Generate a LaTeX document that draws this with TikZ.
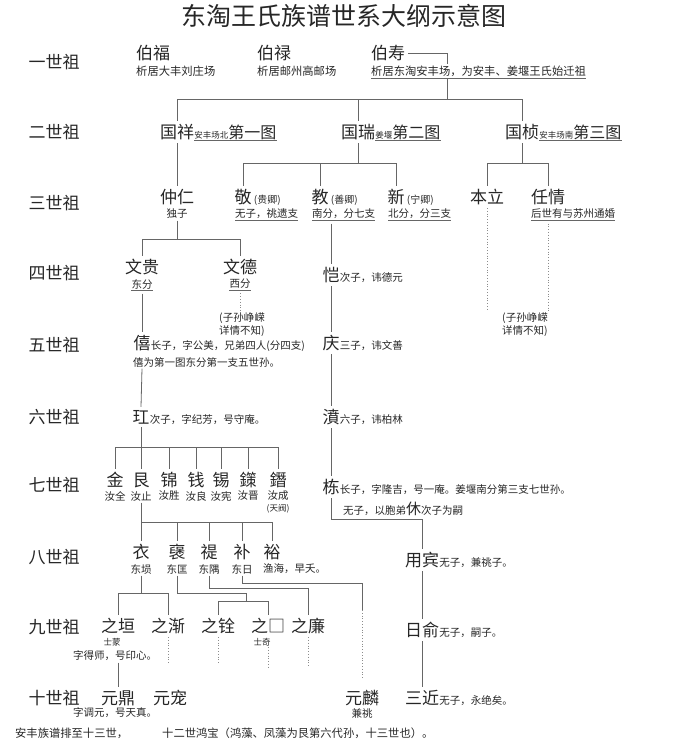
\documentclass[tikz,border=0pt]{standalone}
\usepackage{fontspec}
\setmainfont{Noto Sans CJK SC}
\usetikzlibrary{calc,positioning}
\newcommand\smallfs{\fontsize{8.5}{8.5}\selectfont}
\newcommand\midfs{\fontsize{16}{16}\selectfont}
\tikzset{txt/.style={inner sep=0pt, text=black!85},
  gen/.style={txt, font=\fontsize{17}{17}\selectfont},
  nm/.style={txt, inner ysep=3pt, font=\fontsize{17}{17}\selectfont},
  nt/.style={txt, inner ysep=1.5pt, font=\fontsize{10.5}{13}\selectfont},
  ntl/.style={txt, inner ysep=1.5pt, font=\fontsize{11.3}{13}\selectfont},
  sm/.style={txt, inner ysep=1pt, font=\fontsize{8.5}{10}\selectfont},
  zi/.style={txt, font=\fontsize{10}{10}\selectfont},
  ln/.style={draw=black!60, line width=0.8pt},
  dotln/.style={draw=black!45, dotted, line width=0.8pt},
  ul/.style={draw=black!60, line width=0.6pt}}

\begin{document}
\begin{tikzpicture}[x=1pt,y=-1pt]
  \useasboundingbox (0,0) rectangle (690,747);
  \node[txt, font=\fontsize{25}{25}\selectfont] (title) at (344,16) {东淘王氏族谱世系大纲示意图};
  % generation labels
  \foreach \y/\lab [count=\i] in {62/一世祖, 132/二世祖, 203/三世祖, 273/四世祖, 345/五世祖,
      417/六世祖, 485/七世祖, 557/八世祖, 627/九世祖, 698/十世祖}
    \node[gen] (g\i) at (54,\y) {\lab};

  % 1st generation
  \node[nm] (bf) at (153,53) {伯福};
  \node[nm] (bl) at (274,53) {伯禄};
  \node[nm] (bs) at (388,53) {伯寿};
  \node[ntl, anchor=west] (bfn) at (136,71) {析居大丰刘庄场};
  \node[ntl, anchor=west] (bln) at (257,71) {析居邮州高邮场};
  \node[ntl, anchor=west] (bsn) at (371,71) {析居东淘安丰场，为安丰、姜堰王氏始迁祖};

  % 2nd generation
  \node[nm] (gx) at (177,132) {国祥};
  \node[txt, font=\midfs, anchor=base west] (gxs) at (gx.base east) {{\smallfs 安丰场北}第一图};
  \node[nm] (gr) at (358,132) {国瑞};
  \node[txt, font=\midfs, anchor=base west] (grs) at (gr.base east) {{\smallfs 姜堰}第二图};
  \node[nm] (gz) at (522,132) {国桢};
  \node[txt, font=\midfs, anchor=base west] (gzs) at (gz.base east) {{\smallfs 安丰场南}第三图};

  % 3rd generation
  \node[nm] (zr) at (177,197) {仲仁};
  \node[nt] (zr2) at (177,214) {独子};
  \node[nm] (jing) at (243,197) {敬};
  \node[zi, anchor=base west] (jing1) at ([xshift=2pt]jing.base east) {(贵卿)};
  \node[nt, anchor=west] (jing2) at (235,214) {无子，祧遗支};
  \node[nm] (jiao) at (320,197) {教};
  \node[zi, anchor=base west] (jiao1) at ([xshift=2pt]jiao.base east) {(善卿)};
  \node[nt, anchor=west] (jiao2) at (312,214) {南分，分七支};
  \node[nm] (xin) at (396,197) {新};
  \node[zi, anchor=base west] (xin1) at ([xshift=2pt]xin.base east) {(宁卿)};
  \node[nt, anchor=west] (xin2) at (388,214) {北分，分三支};
  \node[nm] (bli) at (487,197) {本立};
  \node[nm] (rq) at (548,197) {任情};
  \node[nt, anchor=west] (rq2) at (531,214) {后世有与苏州通婚};

  % 4th and 5th generation
  \node[nm] (wg) at (142,267) {文贵};
  \node[nt] (wg2) at (142,284) {东分};
  \node[nm] (wd) at (240,267) {文德};
  \node[nt] (wd2) at (240,284) {西分};
  \node[nt, align=left, anchor=north] (zs1) at (242,311) {(子孙峥嵘\\详情不知)};
  \node[nt, align=left, anchor=north] (zs2) at (525,311) {(子孙峥嵘\\详情不知)};
  \node[nm] (kai) at (331,275) {恺};
  \node[nt, anchor=base west] (kai2) at (kai.base east) {次子，讳德元};
  \node[nm] (xi) at (142,343) {僖};
  \node[nt, anchor=base west] (xi1) at (xi.base east) {长子，字公美，兄弟四人(分四支)};
  \node[nt, anchor=west] (xi2) at (133,362) {僖为第一图东分第一支五世孙。};
  \node[nm] (qing) at (331,343) {庆};
  \node[nt, anchor=base west] (qing2) at (qing.base east) {三子，讳文善};

  % 6th and 7th generation
  \node[nm] (hong) at (141,417) {玒};
  \node[nt, anchor=base west] (hong2) at (hong.base east) {次子，字纪芳，号守庵。};
  \node[nm] (fen) at (331,417) {濆};
  \node[nt, anchor=base west] (fen2) at (fen.base east) {六子，讳柏林};
  \foreach \x/\a/\b [count=\i] in {115/金/汝全, 141/艮/汝止, 169/锦/汝胜, 196/钱/汝良,
      221/锡/汝宪, 248/鏼/汝晋, 278/鐕/汝成}{
    \node[nm] (s\i) at (\x,480) {\a};
    \node[nt] (t\i) at (\x,496) {\b};}
  \node[sm] (tian) at (278,509) {(天阀)};
  \node[nm] (dong) at (331,487) {栋};
  \node[nt, anchor=base west] (dong2) at (dong.base east) {长子，字隆吉，号一庵。姜堰南分第三支七世孙。};
  \node[nt, anchor=west] (dong3) at (343,509) {无子，以胞弟{\fontsize{15}{15}\selectfont 休}次子为嗣};

  % 8th generation
  \foreach \x/\a/\b [count=\i] in {141/衣/东埙, 177/襃/东匡, 209/禔/东隅, 242/补/东日}{
    \node[nm] (r\i) at (\x,552) {\a};
    \node[nt] (u\i) at (\x,569) {\b};}
  \node[nm] (r5) at (272,552) {裕};
  \node[nt, anchor=west] (u5) at (263,569) {渔海，早夭。};
  \node[nm] (yb) at (422,560) {用宾};
  \node[nt, anchor=base west] (yb2) at (yb.base east) {无子，兼祧子。};

  % 9th generation
  \foreach \x/\a [count=\i] in {118/之垣, 168/之渐, 218/之铨, 268/之□, 308/之廉}
    \node[nm] (v\i) at (\x,626) {\a};
  \node[sm] (w1) at (112,642) {士蒙};
  \node[sm] (w4) at (262,642) {士奇};
  \node[nt] (w1b) at (115,656) {字得师，号印心。};
  \node[nm] (ry) at (422,630) {日俞};
  \node[nt, anchor=base west] (ry2) at (ry.base east) {无子，嗣子。};

  % 10th generation
  \node[nm] (x1) at (118,698) {元鼎};
  \node[nm] (x2) at (170,698) {元宠};
  \node[nt] (x1b) at (115,713) {字调元，号天真。};
  \node[nm] (yl) at (362,698) {元麟};
  \node[nt] (ylb) at (362,713) {兼祧};
  \node[nm] (sj) at (422,698) {三近};
  \node[nt, anchor=base west] (sj2) at (sj.base east) {无子，永绝矣。};

  % footer
  \node[ntl, anchor=west] (ft1) at (15,733) {安丰族谱排至十三世，};
  \node[ntl, anchor=west] (ft2) at (162,733) {十二世鸿宝（鸿藻、凤藻为艮第六代孙，十三世也）。};

  % underlines
  \foreach \n in {bsn,gxs,grs,gzs,jing2,jiao2,xin2,rq2,wg2,wd2}
    \draw[ul] (\n.south west) -- (\n.south east);

  % 1st to 3rd generation
  \coordinate (k1) at (447,99);
  \draw[ln] ([xshift=3pt]bs.east) -| (bsn.north -| k1);
  \draw[ln] (bsn.south -| k1) -- (k1);
  \draw[ln] (gx.north |- k1) -- (gz.north |- k1);
  \foreach \n in {gx,gr,gz} \draw[ln] (\n.north |- k1) -- (\n.north);
  \draw[ln] (gx.south) -- (zr.north);
  \coordinate (k2) at (358,163);
  \draw[ln] (gr.south) -- (k2);
  \draw[ln] (jing.north |- k2) -- (xin.north |- k2);
  \foreach \n in {jing,jiao,xin} \draw[ln] (\n.north |- k2) -- (\n.north);
  \coordinate (k3) at (522,163);
  \draw[ln] (gz.south) -- (k3);
  \draw[ln] (bli.north |- k3) -- (rq.north |- k3);
  \foreach \n in {bli,rq} \draw[ln] (\n.north |- k3) -- (\n.north);

  % 3rd to 5th generation
  \coordinate (k4) at (177,239);
  \draw[ln] (zr2.south) -- (k4);
  \draw[ln] (wg.north |- k4) -- (wd.north |- k4);
  \foreach \n in {wg,wd} \draw[ln] (\n.north |- k4) -- (\n.north);
  \draw[ln] ([yshift=-3pt]wg2.south) -- (xi.north);
  \draw[dotln] ([yshift=-3pt]wd2.south) -- (wd2.south |- zs1.north);
  \draw[dotln] (bli.south) -- (bli.south |- zs2.north);
  \draw[dotln] ([yshift=-3pt]rq2.south -| rq.south) -- (rq.south |- zs2.north);
  \draw[ln] ([yshift=-3pt]jiao2.south -| kai) -- (kai.north);
  \draw[ln] (kai.south) -- (qing.north);

  % 5th to 8th generation
  \draw[ln] (qing.south) -- (fen.north);
  \draw[ln] (fen.south) -- (dong.north);
  \coordinate (k5) at (422,519);
  \draw[ln] (dong.south) |- (k5) -- (yb.north);
  \draw[ln] (yb.south) -- (ry.north);
  \draw[ln] (ry.south) -- (sj.north);
  \draw[ln] (xi2.south -| xi) -- (hong.north);
  \coordinate (k6) at (141,447);
  \draw[ln] (hong.south) -- (k6);
  \draw[ln] (s1.north |- k6) -- (s7.north |- k6);
  \foreach \n in {s1,s2,s3,s4,s5,s6,s7} \draw[ln] (\n.north |- k6) -- (\n.north);
  \coordinate (k7) at (141,522);
  \draw[ln] (t2.south) -- (k7);
  \draw[ln] (r1.north |- k7) -- (r5.north |- k7);
  \foreach \n in {r1,r2,r3,r4,r5} \draw[ln] (\n.north |- k7) -- (\n.north);

  % 8th to 10th generation
  \coordinate (k8) at (141,593);
  \draw[ln] (u1.south) -- (k8);
  \draw[ln] (v1.north |- k8) -- (v2.north |- k8);
  \foreach \n in {v1,v2} \draw[ln] (\n.north |- k8) -- (\n.north);
  \coordinate (k9a) at (246,593);
  \coordinate (k9) at (246,601);
  \draw[ln] (u2.south) |- (k9a) -- (k9);
  \draw[ln] (v3.north |- k9) -- (v4.north |- k9);
  \foreach \n in {v3,v4} \draw[ln] (\n.north |- k9) -- (\n.north);
  \draw[ln] (u3.south) |- (v5.north |- 0,588) -- (v5.north);
  \draw[ln] (u4.south) |- (yl.north |- 0,583) -- (yl.north |- 0,610);
  \draw[dotln] (yl.north |- 0,610) -- (yl.north |- 0,678);
  \foreach \n/\e in {v2/663, v3/663, v5/667} \draw[dotln] (\n.south) -- (\n.south |- 0,\e);
  \draw[dotln] (v4.south |- w4.south) -- (v4.south |- 0,667);
  \draw[ln] (w1b.south -| v1) -- (x1.north);
\end{tikzpicture}
\end{document}
